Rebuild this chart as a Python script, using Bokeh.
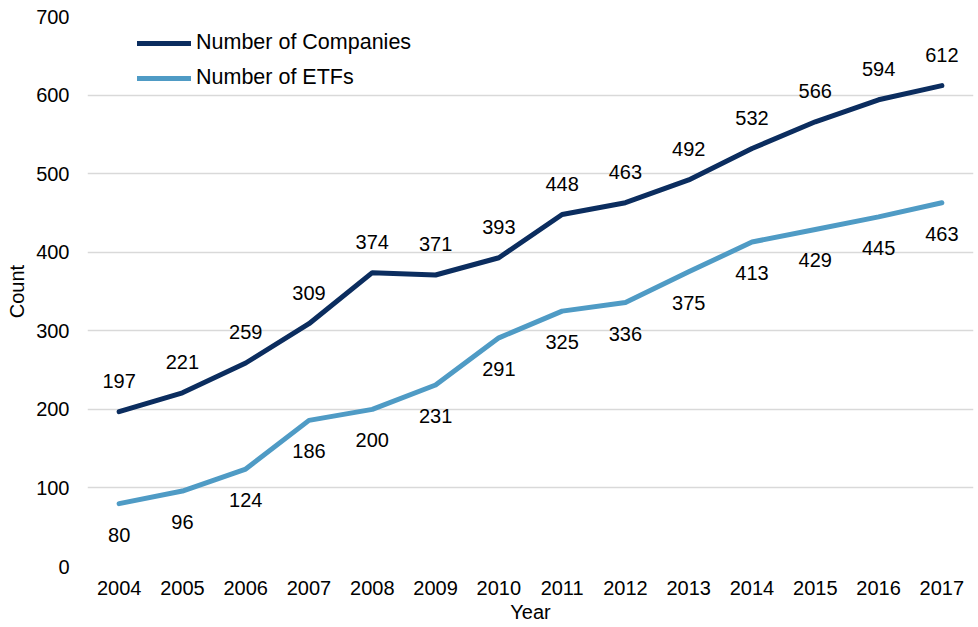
from bokeh.plotting import figure
from bokeh.models import ColumnDataSource, FactorRange, Range1d, Legend
from bokeh.core.properties import value
from bokeh.embed import file_html
from bokeh.resources import INLINE

years = ["2004", "2005", "2006", "2007", "2008", "2009", "2010",
         "2011", "2012", "2013", "2014", "2015", "2016", "2017"]
companies = [197, 221, 259, 309, 374, 371, 393, 448, 463, 492, 532, 566, 594, 612]
etfs = [80, 96, 124, 186, 200, 231, 291, 325, 336, 375, 413, 429, 445, 463]
y_ticks = [0, 100, 200, 300, 400, 500, 600, 700]

FONT = "Liberation Sans"
NAVY = "#0B2D5F"
LIGHT = "#4F9BC5"

src = ColumnDataSource(dict(
    year=years, comp=companies, etf=etfs,
    comp_lbl=[str(v) for v in companies],
    etf_lbl=[str(v) for v in etfs],
))

p = figure(width=976, height=625, output_backend="svg", toolbar_location=None,
           x_range=FactorRange(factors=years, range_padding=0),
           y_range=Range1d(0, 700),
           min_border_left=87, min_border_right=3, min_border_top=16, min_border_bottom=50)
p.outline_line_color = None

l1 = p.line("year", "comp", source=src, line_color=NAVY, line_width=5, line_cap="round", line_join="round")
l2 = p.line("year", "etf", source=src, line_color=LIGHT, line_width=5, line_cap="round", line_join="round")

p.text("year", "comp", text="comp_lbl", source=src, y_offset=-31,
       text_align="center", text_baseline="middle", text_font=value(FONT),
       text_font_size="20px", text_color="#000000")
p.text("year", "etf", text="etf_lbl", source=src, y_offset=31,
       text_align="center", text_baseline="middle", text_font=value(FONT),
       text_font_size="20px", text_color="#000000")

legend = Legend(items=[("Number of Companies", [l1]), ("Number of ETFs", [l2])],
                location=(50, 476), padding=0, margin=0, spacing=10,
                glyph_width=54, glyph_height=20, label_standoff=5,
                label_text_font=FONT, label_text_font_size="21.5px",
                label_text_color="#000000", background_fill_alpha=0,
                border_line_color=None)
p.add_layout(legend)

p.yaxis.ticker = y_ticks
p.xgrid.grid_line_color = None
p.ygrid.grid_line_color = "#D9D9D9"
p.ygrid.grid_line_width = 1.5

for ax in (p.xaxis, p.yaxis):
    ax.axis_line_color = None
    ax.major_tick_line_color = None
    ax.minor_tick_line_color = None
    ax.major_tick_out = 0
    ax.major_tick_in = 0
    ax.major_label_text_font = FONT
    ax.major_label_text_font_size = "20px"
    ax.major_label_text_color = "#000000"
    ax.axis_label_text_font = FONT
    ax.axis_label_text_font_size = "20px"
    ax.axis_label_text_font_style = "normal"
    ax.axis_label_text_color = "#000000"

p.xaxis.axis_label = "Year"
p.yaxis.axis_label = "Count"
p.xaxis.major_label_standoff = 14
p.xaxis.axis_label_standoff = 3
p.yaxis.major_label_standoff = 18
p.yaxis.axis_label_standoff = 5

open("out.html", "w").write(file_html(p, INLINE))
